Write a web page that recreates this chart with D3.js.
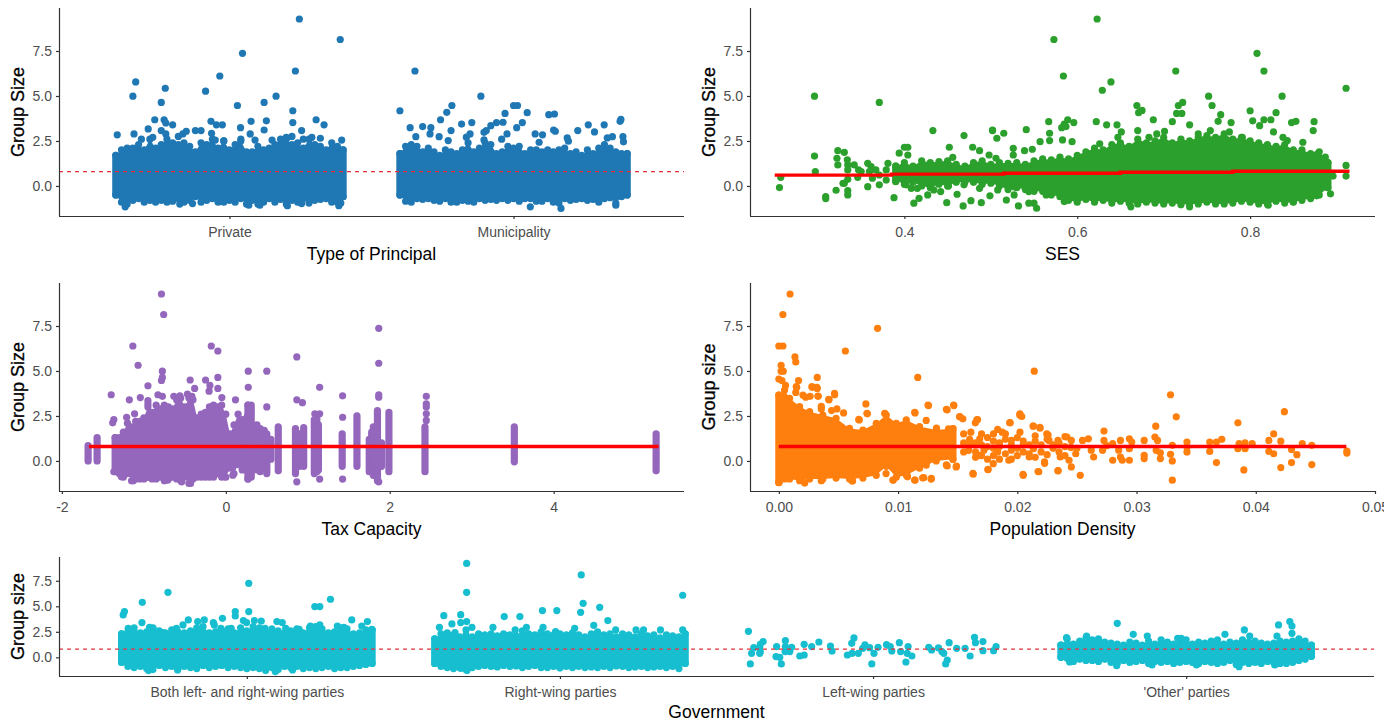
<!DOCTYPE html>
<html>
<head>
<meta charset="utf-8">
<script src="https://d3js.org/d3.v7.min.js"></script>
<style>
body { margin: 0; background: #fff; }
svg { display: block; }
text { font-family: "Liberation Sans", Arial, sans-serif; }
.tick text { fill: #4d4d4d; font-size: 14px; }
.title { fill: #000; font-size: 17.5px; }
.axis path, .axis line { stroke: #333; stroke-width: 1.2; }
</style>
</head>
<body>
<div id="chart"></div>
<script>
// values. [x, group size]; for the categorical panels x is the jitter offset
var principalLabels = ["Private", "Municipality"],
    governmentLabels = ["Both left- and right-wing parties", "Right-wing parties", "Left-wing parties", "'Other' parties"],
    meanSize = 0.8;

var privatePts = [[.246,9.28],[.39,8.14],[.046,7.37],[.232,6.39],[-.034,6.11],[-.33,5.78],[-.226,5.43],[-.084,5.27],[-.34,4.99],[.164,4.99],[.122,4.64],[-.24,4.64],[.028,4.47],[.223,4.18],[-.263,3.68],[-.23,3.68],[-.224,3.5],[-.2,3.4],[-.065,3.59],[-.046,3.4],[-.025,3.4],[.076,3.59],[.13,3.62],[.223,3.52],[.305,3.68],[.333,3.4],[-.286,3.17],[-.24,3.08],[-.224,2.89],[.039,3.24],[.122,3.11],[.254,3.08],[-.395,2.84],[-.336,2.89],[.073,2.89],[-.164,2.89],[-.152,3.04],[-.12,3.08],[-.1,3.08],[-.063,2.93],[-.31,2.6],[-.27,2.7],[.04,2.6],[.09,2.55],[.2,2.7],[.29,2.7],[.32,2.65],[.395,2.55],[-.18,2.75],[-.05,2.55],[-.02,2.5],[.15,2.55],[.22,2.75],[.26,2.6],[-.367,-1.16],[.204,-1.1],[.385,-1.1],[.392,-.95],[-.175,-1.01],[-.13,-.98],[.068,-1.07],[.107,-1.07],[.254,-.98]];
var municipalPts = [[-.347,6.39],[-.115,4.99],[-.4,4.18],[-.217,4.47],[-.235,4.09],[-.257,3.68],[0,4.47],[.014,4.47],[.048,4.07],[-.03,4.03],[.124,3.96],[.144,4],[.375,3.59],[.378,3.7],[.263,3.4],[.319,3.4],[-.183,3.44],[-.147,3.52],[-.037,3.54],[-.06,3.52],[-.08,3.35],[.031,3.52],[.011,3.24],[-.364,3.24],[-.32,3.3],[-.291,3.24],[-.294,2.89],[-.22,3.08],[-.153,2.89],[-.104,2.98],[-.096,3.08],[-.023,2.89],[.076,2.89],[.102,2.84],[.141,3.11],[.147,3.04],[.226,3.08],[.285,3],[-.344,2.74],[-.262,2.74],[-.166,2.71],[-.104,2.56],[-.042,2.6],[.189,2.67],[.193,2.49],[.348,2.74],[.385,2.74],[.387,2.45],[-.23,2.52],[.33,2.67],[.09,2.43],[.059,-1.16],[.167,-1.25],[.36,-1.07]];
var edgeX = [-.4,-.38,-.36,-.34,-.32,-.3,-.28,-.26,-.24,-.22,-.2,-.18,-.16,-.14,-.12,-.1,-.08,-.06,-.04,-.02,0,.02,.04,.06,.08,.1,.12,.14,.16,.18,.2,.22,.24,.26,.28,.3,.32,.34,.36,.38,.4];
var privateHigh = [1.7,2,2.1,2.1,2.3,2,2.6,2.1,2.3,2.6,2.4,2.3,2.4,2.2,1.9,2.4,2.3,2.6,2.1,2.5,2,2.3,2.5,1.9,1.9,2.2,2,2.1,2.3,2.6,2.6,2.3,2.4,2.1,2.6,2.3,2.2,2,2.4,2.2,2];
var privateLow = [-.5,-.9,-1,-.8,-.7,-.9,-.8,-.9,-.8,-.9,-.85,-.7,-.9,-.8,-.6,-.9,-.8,-.7,-.9,-.9,-.8,-.9,-.7,-1,-.8,-1,-.9,-.7,-.9,-.75,-1,-.8,-.9,-.7,-.95,-.8,-.75,-.7,-.9,-.9,-.6];
var municipalHigh = [1.8,2.2,2.3,2.2,1.9,2.1,1.9,1.7,2,1.9,1.8,2,2.4,1.9,2.1,2.4,2.3,1.8,1.9,2.2,2.1,2.2,1.8,2,2,1.9,2,1.9,2,2.1,1.8,1.9,1.7,2,1.8,2.1,2.3,2.1,1.9,1.8,1.8];
var municipalLow = [-.5,-.85,-.9,-.7,-.75,-.7,-.8,-.85,-.7,-.9,-.9,-.8,-.85,-.9,-.7,-.8,-.75,-.8,-.7,-.8,-.7,-.85,-.7,-.7,-.85,-.85,-.7,-.9,-.95,-.7,-.8,-.75,-.7,-.8,-.75,-.9,-.7,-.65,-.95,-.6,-.5];

var sesBandX = [.39,.4,.41,.42,.43,.44,.45,.46,.47,.48,.49,.5,.51,.52,.53,.54,.55,.56,.57,.58,.59,.6,.61,.62,.63,.64,.65,.66,.67,.68,.69,.7,.71,.72,.73,.74,.75,.76,.77,.78,.79,.8,.81,.82,.83,.84,.85,.86,.87,.88,.89];
var sesHigh = [1.1,1.3,1.1,1.4,1.3,1.35,1.4,1.2,1.1,1.3,1.4,1.2,1.3,1.25,1.3,1.2,1.4,1.5,1.45,1.6,1.5,1.7,1.9,2.1,2,2.3,2.4,2.2,2.6,2.4,2.5,2.7,2.4,2.6,2.5,2.7,2.8,2.7,2.9,2.6,2.7,2.5,2.4,2.3,2.2,2.3,2,2,1.8,1.9,1.3];
var sesLow = [.3,.1,.2,0,-.1,.1,0,.2,.2,.2,.1,.15,0,-.2,-.1,-.2,-.3,-.3,-.5,-.6,-.8,-.9,-.75,-.9,-.8,-.95,-.85,-.95,-1,-.9,-.95,-1,-.95,-1.05,-1,-1,-.9,-1,-1,-.95,-.85,-.9,-1,-1,-.85,-.95,-.9,-.8,-.7,-.5,-.1];
var sesPts = [[.623,9.28],[.573,8.14],[.808,7.37],[.584,6.11],[.714,6.39],[.816,6.39],[.639,5.78],[.629,5.32],[.911,5.43],[.296,4.99],[.752,4.99],[.837,4.99],[.371,4.64],[.756,4.47],[.722,4.64],[.717,4.47],[.669,4.47],[.675,4.2],[.671,4.07],[.8,4.18],[.83,4.07],[.715,4.03],[.721,4.03],[.766,3.96],[.688,3.68],[.71,3.57],[.567,3.57],[.589,3.68],[.596,3.52],[.622,3.57],[.803,3.62],[.816,3.68],[.824,3.68],[.853,3.59],[.848,3.52],[.874,3.57],[.763,3.59],[.778,3.52],[.811,3.35],[.646,3.4],[.634,3.4],[.73,3.4],[.582,3.24],[.585,3.44],[.433,3.08],[.502,3.08],[.541,3.13],[.701,3.04],[.873,3.08],[.911,1.14],[.911,.55],[.896,.55],[.893,-.44],[.877,-.55],[.296,1.66],[.297,.8],[.257,.48],[.2555,-.09],[.309,-.59],[.309,-.7],[.321,-.24],[.3345,-.26],[.3345,-.5],[.323,1.96],[.322,1.54],[.323,1.17],[.3305,1.87],[.334,1.45],[.3345,1.17],[.3345,.89],[.3305,.15],[.3345,.37],[.329,.15],[.342,1.17],[.347,.89],[.346,.48],[.35,.8],[.3576,1.26],[.3615,1.07],[.3596,.8],[.367,.89],[.371,.61],[.3576,-.04],[.363,.43],[.371,.06],[.379,.33],[.381,1.26],[.379,.89],[.388,-.65],[.39,.24],[.4,2.15],[.404,2.15],[.394,1.82],[.404,1.72],[.402,.06],[.411,-.96],[.417,-.69],[.415,-.13],[.427,-.5],[.434,-.22],[.442,-.31],[.451,0],[.449,-.93],[.461,-.46],[.468,-1.11],[.477,-.82],[.469,2.8],[.489,-.93],[.499,-.55],[.452,2.15],[.456,1.59],[.479,2.15],[.487,1.96],[.502,3.11],[.515,2.93],[.507,2.65],[.526,2.09],[.526,1.72],[.539,1.96],[.548,2.04],[.557,2.46],[.568,2.52],[.587,3.3],[.568,2.93],[.583,2.56],[.594,2.46],[.518,-.78],[.527,-.5],[.532,-1.11],[.544,-.96],[.55,-.96],[.553,-1.24],[.585,-.87],[.564,-.5],[.498,1.72],[.506,1.54],[.508,-.22],[.527,-.04],[.544,-.31],[.487,-.13],[.469,.06],[.408,-.13],[.662,-1.16],[.73,-1.16],[.821,-1.07],[.85,-.88],[.626,2.34],[.647,2.7],[.651,3],[.67,3.08],[.683,2.7],[.692,2.89],[.74,2.89],[.754,3.08],[.791,2.7],[.776,3],[.827,3],[.838,2.7],[.861,2.43],[.843,2.52],[.878,1.79],[.887,1.6]];
var sesFitX = [.25,.385,.515,.65,.78,.915];
var sesFitY = [.6,.66,.71,.76,.82,.82];

var taxBandX = [-1.35,-1.3,-1.25,-1.2,-1.15,-1.1,-1.05,-1,-.95,-.9,-.85,-.8,-.75,-.7,-.65,-.6,-.55,-.5,-.45,-.4,-.35,-.3,-.25,-.2,-.15,-.1,-.05,0,.05,.1,.15,.2,.27];
var taxHigh = [1.3,1.3,1.6,2.1,1.9,2.2,2.2,2.4,3,2.7,3.1,2.9,3.1,3,2.9,3.4,3.5,3,3.5,3.4,2.4,2.6,2.7,3,3.1,3,3.1,2.6,1.5,2,2.6,2.3,3.1];
var taxLow = [-.6,-.7,-.9,-.7,-1.1,-1,-1,-1,-.9,-1,-1,-.9,-1.1,-1,-.9,-1,-1.1,-.9,-1.25,-1,-.9,-.9,-.9,-.9,-.9,-.7,-.9,-.9,-.4,-.7,-.2,-.5,-1];
// columns of overplotted points: x, lowest, highest
var taxColX = [-1.68,-1.57,.31,.38,.42,.47,.5,.55,.64,.85,.9,.95,1.08,1.11,1.13,1.42,1.6,1.75,1.78,1.8,1.83,1.85,1.9,1.99,2.43,3.52,5.25];
var taxColLow = [0,0,-.9,-.5,-.6,-.4,-.7,.1,-.55,-.7,-.3,-.3,-.7,-.6,-.5,-.3,-.3,-.6,-.4,-.8,-.6,-1.1,-.3,-.6,-.6,-.05,-.55];
var taxColHigh = [.85,1.3,3.1,2,1.8,1.7,1.5,1.2,1.9,1.8,1.5,1.85,2.3,2.5,2,1.5,2.5,1.2,1.6,1.9,1.7,2.8,1,2.7,1.9,1.9,1.5];
var taxPts = [[-.785,9.28],[-.758,8.14],[1.866,7.37],[-1.134,6.39],[-.177,6.39],[-.097,6.11],[.866,5.78],[-1.07,5.32],[1.866,5.43],[-.774,4.99],[.274,4.99],[.5,4.99],[-.774,4.64],[-.785,4.47],[-.435,4.5],[-.247,4.5],[-.097,4.64],[-.95,4.18],[-.194,4.2],[.274,4.09],[1.145,4.09],[-.38,4.03],[-.097,4.03],[-.204,3.88],[-1.398,3.68],[1.425,3.62],[1.866,3.68],[1.866,3.54],[2.446,3.59],[-1.177,3.4],[-1.043,3.52],[-.828,3.68],[-.774,3.59],[-.634,3.59],[-.56,3.62],[-.468,3.72],[-.414,3.59],[-.048,3.52],[.118,3.4],[.866,3.4],[.935,3.24],[.5,3],[2.446,3.17],[2.446,3],[1.425,2.43],[1.086,2.62],[1.145,2.62],[2.446,2.62],[2.446,2.25],[-.95,3.35],[-.95,3.17],[-1.113,2.62],[-1.21,2.43],[-1.366,2.3],[-1.38,2.12],[-1.274,-.88],[-1.129,-1.1],[-.43,-1.25],[-.538,-1.16],[-.71,-1.07],[-.978,-.94],[.086,-.79],[-.01,-.88],[-1.366,-.6],[.866,-1.16],[1.145,-1.01],[1.425,-1.01],[1.866,-1.16]];

var densityBandX = [0,.00048,.0009,.00174,.00258,.00369,.0048,.00593,.00705,.00817,.00901,.00985,.01069,.0118,.0132,.0146];
var densityHigh = [3.66,3.94,3.48,3.02,2.74,2.55,2.37,1.81,1.72,2.09,2.55,2.09,2.28,1.91,1.72,1.8];
var densityLow = [-1.2,-1,-1,-1.1,-1,-1,-.95,-1,-.95,-.8,-.3,-.9,-.8,-.4,0,.1];
var densityPts = [[.00094,9.28],[.00034,8.14],[.00828,7.37],[0,6.39],[.00034,6.39],[.00558,6.11],[.00135,5.78],[.00142,5.5],[.00019,5.32],[.02142,4.99],[.00019,4.99],[.00037,4.99],[.01165,4.64],[.00322,4.64],[0,4.55],[.00026,4.47],[.00165,4.47],[.00056,4.2],[.0015,4.09],[.00281,4.09],[.00322,4.03],[.00142,3.81],[.03285,3.68],[.00468,3.68],[.0033,3.59],[.0042,3.4],[.00225,3.54],[.00262,3.59],[.0073,3.17],[.01255,3.08],[.01468,3.08],[.01412,2.84],[.00356,3.04],[.00356,2.89],[.00487,2.89],[.00442,2.8],[.00543,2.67],[.00742,2.62],[.00891,2.62],[.01142,2.67],[.00674,2.28],[.0424,2.74],[.03333,2.45],[.0385,2.12],[.02022,2.62],[.02037,2.47],[.01517,2.45],[.01543,2.34],[.01667,2.3],[.01648,2.12],[.01236,2.25],[.0194,2.12],[.02135,1.93],[.02191,1.82],[.03161,1.93],[.02727,1.66],[.02727,1.14],[.0415,1.5],[.03715,1.2],[.0367,-.09],[.039,-.5],[.0447,-.2],[.043,-.09],[.0421,-.37],[.04345,.35],[.033,-1.07],[.033,0],[.03285,.37],[.02528,-.8],[.02341,-.55],[.0218,-.6],[.0205,-.8],[.01753,-.48],[.0163,-.74],[.01277,-1.01],[.01206,-.94],[.01142,-1.07],[.01079,-.88],[.00959,-1.07],[.00899,-.7],[.00618,-1.1],[.00356,-1.1],[.00217,-1.23],[0,-1.2],[.04764,.55],[.04764,.44],[.0439,.96],[.0447,.87],[.0411,1.14],[.0421,1.1],[.0415,.4],[.0411,.53],[.043,.64],[.0397,.96],[.0391,1],[.0385,.68],[.0391,.68],[.0386,.96],[.03614,1.05],[.03614,.53],[.0367,1.05],[.03423,1.05],[.03423,.5],[.03423,.77],[.033,.87],[.03154,1.33],[.03176,1.14],[.03165,.59],[.032,.13],[.032,.45],[.03064,1.14],[.03064,.31],[.03064,.13],[.0294,1.23],[.0294,.04],[.0294,.68],[.0296,1.05],[.02865,1.14],[.02865,.22],[.028,.04],[.0288,.04],[.028,.96],[.02715,.59],[.0264,.22],[.02596,1.23],[.02547,1.14],[.0249,.4],[.02453,-.33],[.02434,.04],[.0236,.22],[.02341,1.14],[.02416,1.33],[.02453,1.14],[.02247,1.5],[.02266,1.14],[.02228,-.05],[.021,.22],[.02135,.68],[.0215,1.4],[.02022,1.6],[.0195,1.14],[.01873,1.6],[.01835,1.75],[.01929,.04],[.01835,.5],[.01798,-.15],[.01685,1.23],[.0161,1.6],[.01685,.31],[.01592,.59],[.01487,-.33],[.01412,-.28],[.01423,1.79],[.01322,1.82],[.01236,-.24],[.0112,-.24],[.025,.7],[.023,.7],[.0275,.85],[.0262,.6],[.0245,.75],[.0225,.35],[.0205,.9],[.0195,.6],[.0185,1],[.0175,1.3],[.0172,.6],[.0285,.6],[.00739,2.65],[.0067,2.31],[.00888,2.65],[.0114,2.7],[.01251,3.11],[.01405,2.87],[.01466,3.11],[.01517,2.46],[.0166,2.28],[.01936,2.13],[.0202,2.55],[.02132,1.94],[.0219,1.87],[.024,1.35],[.02258,1.44],[.00616,-1.11],[.00957,-1.06],[.01139,-1.06],[.01215,-.93],[.01279,-.97],[.01075,-.78],[.01628,-.69],[.01755,-.47],[.02048,-.74],[.02174,-.59],[.02342,-.54],[.02229,-.13],[.01405,-.22],[.0149,-.28],[.00319,4.09],[.00277,4.13],[.00146,4.13],[.00467,3.76],[.00419,3.42],[.00328,3.61],[.00202,3.66],[.0155,1.5],[.0155,1],[.0155,.5],[.016,1.2],[.016,.9],[.0165,.2],[.0165,1],[.0165,.5],[.017,1.5],[.017,.9],[.017,.3],[.0175,.8],[.0175,.1],[.018,1.5],[.018,1.1],[.018,.7],[.018,.3],[.0185,.8],[.0185,.1],[.019,1.5],[.019,1.2],[.019,.4],[.0195,.9],[.0195,.1],[.02,1.3],[.02,.7],[.02,.3],[.0205,1.1],[.0205,.5],[.021,.9],[.021,.4],[.0215,1.1],[.0215,.2],[.022,.9],[.022,.5],[.0225,1.2],[.023,.9],[.0235,1],[.0235,.5],[.024,.8],[.024,.3]];
var fitFlatY = [.8,.8];

var bothPts = [[.006,7.25],[-.252,6.37],[-.334,5.39],[.267,5.69],[.217,4.97],[.233,4.97],[-.391,4.48],[-.395,4.15],[-.037,4.48],[-.037,4.05],[.006,4.48],[-.078,3.82],[.335,3.66],[.385,3.5],[-.187,3.66],[-.136,3.66],[-.157,3.5],[-.107,3.4],[-.204,3.17],[-.225,2.84],[-.335,3.4],[-.379,2.84],[-.311,2.94],[-.3,2.85],[-.269,2.42],[-.011,3.6],[-.001,3.4],[.024,3.6],[.046,3.56],[.096,3.5],[.113,3.4],[-.05,2.84],[.058,2.84],[.167,2.75],[.203,3.07],[.233,3.17],[.289,3.07],[.31,2.94],[.367,3.07],[.399,2.75],[-.083,2.84],[-.104,3.17],[.124,2.84],[-.314,-1.3],[-.221,-1.24],[.091,-1.4],[.146,-1.24]];
var rightPts = [[-.298,9.2],[-.298,6.37],[.068,8.07],[.074,5.29],[.127,4.9],[.392,6.08],[.066,4.41],[-.056,4.58],[-.01,4.58],[-.371,4.08],[-.317,4.18],[-.178,3.99],[-.128,3.99],[.153,3.6],[-.345,3.27],[-.317,3.4],[-.298,3.5],[-.385,2.94],[-.281,2.94],[-.214,2.94],[-.054,2.94],[.108,3.14],[.047,2.84],[-.335,2.42],[-.3,2.68],[-.014,2.52],[.392,2.68],[.321,2.68],[.267,2.68],[.243,2.68],[.178,2.68],[-.143,2.68],[-.107,2.94],[-.297,-1.3],[-.317,-1.08]];
var leftPts = [[-.398,2.55],[-.392,-.65],[-.388,.39],[-.381,.95],[-.362,.98],[-.362,.39],[-.36,.55],[-.351,1.54],[-.36,1.27],[-.308,1.05],[-.31,.07],[-.298,0],[-.293,-.65],[-.28,1.63],[-.28,1.05],[-.281,.56],[-.266,.56],[-.26,.98],[-.234,.13],[-.22,.23],[-.22,1.27],[-.196,1.05],[-.173,1.5],[-.136,1.11],[-.131,.62],[-.082,.23],[-.067,.39],[-.047,.39],[-.061,1.9],[-.068,1.37],[-.033,.88],[-.026,1.21],[-.011,.95],[.003,.39],[-.004,-.65],[.016,.98],[.043,1.24],[.055,1.05],[.06,.62],[.084,1.44],[.088,.56],[.109,.39],[.112,1.05],[.105,-.46],[.124,.13],[.178,.98],[.187,.72],[.209,.92],[.22,.56],[.226,.39],[.237,-.26],[.232,-.65],[.243,1.44],[.267,.88],[.294,.88],[.31,.13],[.324,1.96],[.327,1.44],[.351,1.54],[.351,.65],[.385,.65],[.393,1.05]];
var otherPts = [[-.22,3.33],[-.169,2.25],[.124,2.25],[.186,2.68],[.331,3.5],[.338,3.07],[.338,2.35],[.295,3.17],[.29,2.09],[-.382,1.93],[-.318,2.09],[-.124,2.09],[-.027,1.86],[-.016,1.86],[.203,2.09],[-.372,-.46],[-.222,-.82],[-.109,-.75],[.033,-.75],[.169,-.92],[.283,-.75]];
var bothHigh = [2.3,2.5,2.9,2.4,2.5,2.9,2.6,2.4,2.7,2.5,2.4,2.6,2.9,3,2.4,2.5,2.6,2.8,2.4,2.9,2.6,3,2.9,2.5,2.8,2.6,2.4,2.6,2.8,2.4,2.9,3,2.8,2.4,2.5,2.9,2.8,2.3,2.4,2.7,2.7];
var bothLow = [-.5,-.9,-1,-.9,-1.1,-1.2,-.8,-1,-.9,-1.1,-.9,-1,-1.1,-.8,-1,-.9,-.8,-1,-.9,-1,-1.1,-1,-1.1,-1.3,-1,-1.2,-.9,-1,-.9,-1.1,-1,-1.1,-1,-.9,-1.1,-1,-1,-.9,-.8,-.7,-.6];
var rightHigh = [1.8,2.3,2.4,2.2,2,2.2,2,2.3,2.2,2.3,2.1,2.3,2.2,2.1,2.6,2.3,2.2,2.5,2.3,2.2,2.3,2.2,2.4,2.2,2,2.3,2.5,2.2,2.3,2,2.3,2.2,2,2.3,2.1,2.2,1.9,2.2,2.1,2,2.3];
var rightLow = [-.6,-.9,-1,-1.1,-1,-1.2,-1,-.9,-.8,-.9,-.95,-.8,-.9,-.85,-1,-.9,-.8,-1,-1,-.9,-1.05,-.9,-1,-.9,-1,-.95,-1,-.9,-1,-.85,-.9,-1,-.95,-.9,-1,-.95,-.9,-1,-.9,-1.1,-.6];
var otherHigh = [1.2,1.8,1.3,1.6,1.9,1.7,1.8,1.5,1.4,1.3,1.2,1.5,1.4,1.2,1.6,1.3,1.7,1.5,1.3,1.7,1.7,1.3,1.5,1.4,1.6,1.7,1.3,1.5,1.4,1.7,1.5,1.6,1.4,1.3,1.4,1.6,1.5,1.6,1.8,1.6,1.2];
var otherLow = [0,-.1,-.4,-.2,-.3,-.3,-.4,-.2,-.5,-.6,-.3,-.5,-.4,-.3,-.6,-.4,-.5,-.4,-.6,-.5,-.4,-.5,-.6,-.4,-.5,-.6,-.5,-.3,-.7,-.5,-.6,-.5,-.6,-.4,-.5,-.6,-.6,-.5,-.3,-.2,.1];

var svg = d3.select("#chart").append("svg").attr("width", 1389).attr("height", 724);
var r = 3.6;

function panel(o) {
    var x = d3.scaleLinear().domain(o.xDomain).range([o.left, o.right]),
        y = d3.scaleLinear().domain(o.yDomain).range([o.bottom, o.top]),
        g = svg.append("g"),
        cat = o.cats;

    function dots(pts, at) {
        g.selectAll(null).data(pts).enter().append("circle")
            .attr("cx", function(d) { return x(d[0] + (at || 0)); })
            .attr("cy", function(d) { return y(d[1]); })
            .attr("r", r)
            .attr("fill", o.color);
    }
    function column(v, lo, hi) {
        g.append("line")
            .attr("x1", x(v)).attr("x2", x(v))
            .attr("y1", y(lo)).attr("y2", y(hi))
            .attr("stroke", o.color).attr("stroke-width", r * 2).attr("stroke-linecap", "round");
    }

    // the overplotted mass of dots: filled between its read-off edges, with a dot on each edge value
    (o.bands || []).forEach(function(b) {
        var at = b.at || 0, last = b.xs.length - 1;
        var area = d3.area()
            .x(function(d) { return x(d[0]); })
            .y0(function(d) { return y(d[1]); })
            .y1(function(d) { return y(d[2]); });
        g.append("path")
            .datum(b.xs.map(function(v, i) { return [v + at, b.low[i], b.high[i]]; }))
            .attr("d", area)
            .attr("fill", o.color);
        dots(b.xs.map(function(v, i) { return [v, b.high[i]]; }), at);
        dots(b.xs.map(function(v, i) { return [v, b.low[i]]; }), at);
        column(b.xs[0] + at, b.low[0], b.high[0]);
        column(b.xs[last] + at, b.low[last], b.high[last]);
    });
    (o.cols ? o.cols.x : []).forEach(function(v, i) {
        column(v, o.cols.low[i], o.cols.high[i]);
    });
    (o.points || []).forEach(function(s) { dots(s.pts, s.at); });

    if (o.mean != null) {
        g.append("line")
            .attr("x1", o.left).attr("x2", o.right)
            .attr("y1", y(o.mean)).attr("y2", y(o.mean))
            .attr("stroke", "#e8303a").attr("stroke-width", 1.2).attr("stroke-dasharray", "4,4");
    }
    if (o.fit) {
        var line = d3.line()
            .x(function(d) { return x(d[0]); })
            .y(function(d) { return y(d[1]); })
            .curve(d3.curveStepAfter);
        g.append("path")
            .datum(o.fit.x.map(function(v, i) { return [v, o.fit.y[i]]; }))
            .attr("d", line)
            .attr("fill", "none").attr("stroke", "#ff0000").attr("stroke-width", 3.4);
    }

    var xAxis = d3.axisBottom(x).tickSize(3).tickPadding(8);
    if (cat) xAxis.tickValues(d3.range(1, cat.length + 1)).tickFormat(function(d) { return cat[d - 1]; });
    else xAxis.tickValues(o.xTicks).tickFormat(o.xFormat);
    g.append("g").attr("class", "axis")
        .attr("transform", "translate(0," + o.bottom + ")")
        .call(xAxis)
        .call(function(a) { a.select(".domain").attr("d", "M" + o.left + ",0.5H" + o.right); });

    var yAxis = d3.axisLeft(y).tickValues([0, 2.5, 5, 7.5]).tickFormat(d3.format(".1f")).tickSize(3).tickPadding(4);
    g.append("g").attr("class", "axis")
        .attr("transform", "translate(" + o.left + ",0)")
        .call(yAxis)
        .call(function(a) { a.select(".domain").attr("d", "M0.5," + o.top + "V" + o.bottom); });

    g.append("text").attr("class", "title")
        .attr("x", (o.left + o.right) / 2).attr("y", o.bottom + o.titleGap)
        .attr("text-anchor", "middle").text(o.xTitle);
    g.append("text").attr("class", "title").style("font-size", "18px")
        .attr("stroke", "#000").attr("stroke-width", .3)
        .attr("transform", "translate(" + (o.left - 35) + "," + ((o.top + o.bottom) / 2) + ") rotate(-90)")
        .attr("text-anchor", "middle").text(o.yTitle);
}

panel({
    left: 59, right: 684, top: 8, bottom: 216, yDomain: [-1.67, 9.89], color: "#1f77b4", titleGap: 44,
    xDomain: [.4, 2.6], cats: principalLabels, mean: meanSize,
    xTitle: "Type of Principal", yTitle: "Group Size",
    bands: [{xs: edgeX, high: privateHigh, low: privateLow, at: 1}, {xs: edgeX, high: municipalHigh, low: municipalLow, at: 2}],
    points: [{pts: privatePts, at: 1}, {pts: municipalPts, at: 2}]
});
panel({
    left: 750, right: 1375, top: 8, bottom: 216, yDomain: [-1.67, 9.89], color: "#2ca02c", titleGap: 44,
    xDomain: [.2214, .9445], xTicks: [.4, .6, .8], xFormat: d3.format(".1f"),
    xTitle: "SES", yTitle: "Group Size",
    bands: [{xs: sesBandX, high: sesHigh, low: sesLow}],
    points: [{pts: sesPts}], fit: {x: sesFitX, y: sesFitY}
});
panel({
    left: 59, right: 684, top: 283, bottom: 491, yDomain: [-1.67, 9.89], color: "#9467bd", titleGap: 44,
    xDomain: [-2.035, 5.59], xTicks: [-2, 0, 2, 4], xFormat: String,
    xTitle: "Tax Capacity", yTitle: "Group Size",
    bands: [{xs: taxBandX, high: taxHigh, low: taxLow}],
    cols: {x: taxColX, low: taxColLow, high: taxColHigh},
    points: [{pts: taxPts}], fit: {x: [-1.67, 5.28], y: fitFlatY}
});
panel({
    left: 750, right: 1375, top: 283, bottom: 491, yDomain: [-1.67, 9.89], color: "#ff7f0e", titleGap: 44,
    xDomain: [-.00242, .05], xTicks: [0, .01, .02, .03, .04, .05], xFormat: d3.format(".2f"),
    xTitle: "Population Density", yTitle: "Group size",
    bands: [{xs: densityBandX, high: densityHigh, low: densityLow}],
    points: [{pts: densityPts}], fit: {x: [0, .0476], y: fitFlatY}
});
panel({
    left: 59, right: 1374, top: 557, bottom: 676, yDomain: [-1.83, 9.83], color: "#17becf", titleGap: 42,
    xDomain: [.4, 4.6], cats: governmentLabels, mean: meanSize,
    xTitle: "Government", yTitle: "Group size",
    bands: [{xs: edgeX, high: bothHigh, low: bothLow, at: 1}, {xs: edgeX, high: rightHigh, low: rightLow, at: 2}, {xs: edgeX, high: otherHigh, low: otherLow, at: 4}],
    points: [{pts: bothPts, at: 1}, {pts: rightPts, at: 2}, {pts: leftPts, at: 3}, {pts: otherPts, at: 4}]
});

// the original image is cut off here, through the last tick label
svg.append("rect").attr("x", 1384).attr("y", 0).attr("width", 5).attr("height", 724).attr("fill", "#fff");
</script>
</body>
</html>
